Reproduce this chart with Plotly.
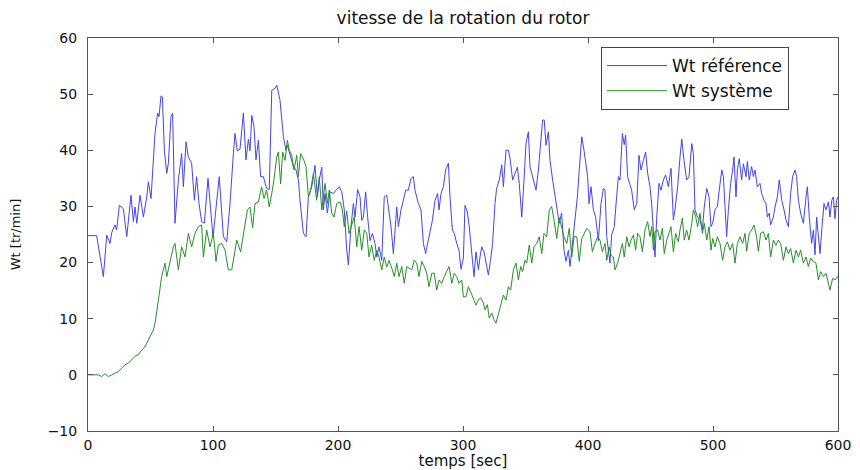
import plotly.graph_objects as go

# ---- data ----
t_ref = [0, 6.9, 12.3, 15, 17.6, 18.9, 21.6, 22.9, 25.1, 28.3, 31, 34.4, 36.3, 37.6, 39, 41.6, 44.3, 47, 48.3, 50.4,
         53.6, 55.7, 56.8, 58.4, 59.5, 61.1, 63, 64.3, 66.4, 67.7, 69.6, 72.3, 74.9, 76.3, 78.4, 80.3, 82.9, 85.1, 86.9, 88.8,
         90.9, 93.1, 96, 100, 105, 108.3, 111, 113.6, 116.3, 117.6, 119.5, 121.6, 124.3, 126.4, 128.3, 129.6, 131, 132.8, 134.4, 136.3,
         138.1, 140.3, 142.9, 145, 147, 149.6, 151, 153.6, 156.3, 158.4, 159.5, 161.6, 164.3, 166.4, 168.3, 169.6, 172.3, 174.4, 176.3, 179,
         181.6, 183.5, 185, 187, 188.3, 189.6, 191.5, 193.6, 196.3, 198.4, 201, 203, 205, 207, 208.3, 210.4, 212.3, 213.6, 215.7, 217.6,
         219, 220.3, 222.1, 223.7, 225.6, 227.5, 229.6, 231, 232.8, 235, 237, 239, 240.8, 242.4, 244.3, 245.6, 247, 248.3, 250.4, 252.3,
         254.1, 256.3, 258.4, 260.3, 261.6, 264.3, 266.4, 268.3, 270.1, 271.7, 273.6, 275.5, 277.6, 279.7, 280.8, 282.4, 284.3, 286.1, 288.3, 289.6,
         291.5, 293, 295, 296.8, 298.4, 300.3, 301.6, 303.5, 305, 307, 308.8, 310.4, 312.3, 313.6, 315, 316.8, 319, 320.3, 322, 323.7,
         325.6, 326.9, 329, 331, 332.3, 334.4, 336.3, 337.6, 339.7, 341.6, 343.5, 345, 347, 348.8, 350.4, 352.3, 353.6, 355, 356.8, 358.4,
         360.3, 362.1, 363.7, 365, 366.4, 368.3, 369.6, 371.7, 373.6, 375.5, 377, 378.9, 380.8, 382.4, 384.3, 385.6, 387.7, 389.6, 391.5, 393,
         395, 396.8, 398.4, 399.7, 400.8, 402.4, 404.3, 406.1, 408.3, 410.4, 412.3, 413.6, 415, 416.8, 417.6, 418.9, 421, 422.9, 424.3, 425.6,
         427.5, 429, 430.1, 431.7, 433.6, 434.9, 437, 439, 440.8, 442.4, 444.3, 446.1, 447.7, 449.6, 450.9, 452.3, 453.6, 455, 456.8, 458.4,
         460.3, 462.1, 464.3, 466.4, 468.3, 469.6, 471.7, 473.6, 475, 476.8, 478.9, 480.8, 483, 484.3, 485.6, 487.7, 489.6, 491.5, 493, 495,
         496.8, 498.4, 499.7, 501.6, 503.5, 505, 507, 508.3, 509.6, 510.9, 512.3, 514.1, 515.7, 516.8, 518.4, 519.5, 521, 522.9, 524.3, 526.4,
         527.5, 529, 530.9, 532.3, 533.6, 535.5, 537.6, 538.9, 540.8, 542.4, 543.5, 545, 546.1, 548.3, 549.6, 551.5, 553, 555, 556.8, 558.4,
         560.3, 562.1, 563.7, 565.6, 566.9, 568.3, 570.1, 572.3, 574.4, 575.5, 577, 578.9, 580.3, 581.6, 582.9, 584.3, 585.6, 587, 588.8, 590.4,
         592.3, 593.6, 595, 596.3, 597.6, 598.9, 600]
v_ref = [24.8, 24.8, 17.5, 24.9, 23.4, 25.3, 26.7, 25.8, 30.2, 29.6, 24.6, 32, 27.3, 29.9, 27, 32, 28.1, 31.7, 34.4, 31.4,
         43, 46.6, 46, 49.7, 49.5, 39.9, 35.9, 37.7, 46, 46.6, 27, 34.7, 39.4, 33.5, 41.5, 38.8, 37.7, 31.1, 35.3, 30.5,
         27.3, 27, 35, 24.5, 35.3, 24.6, 23.7, 30.5, 39.4, 43, 39.9, 40.2, 46.6, 38.3, 42, 39.9, 46.2, 44.2, 38.3, 41.8,
         35.3, 35.3, 33.2, 33, 50.7, 51, 51.6, 48.9, 42.4, 40, 40.9, 39.2, 37.1, 36.5, 34.7, 31.1, 25.2, 24.6, 31.7, 33.5,
         37.3, 31.7, 34.7, 37, 29.4, 32.3, 28.8, 32.6, 32.3, 32.9, 33.5, 32.6, 29.4, 22.2, 19.6, 26.4, 30.5, 28.1, 33, 31.7,
         27.5, 28.1, 32.6, 28.1, 23.9, 25.2, 23.4, 21, 22.8, 20.4, 31.7, 32, 29.4, 26.4, 21.6, 25.8, 29.9, 26.4, 29.4, 31.1,
         32.9, 32.9, 35, 35.3, 32.9, 30.5, 29.4, 23.4, 21.6, 23.4, 25.5, 27.5, 31.1, 32.3, 29.4, 32.3, 33.5, 36.5, 37.7, 31.7,
         25.8, 25.2, 23.4, 22.2, 18.8, 20.8, 30.2, 29, 26.4, 22.2, 17.5, 21.9, 18.7, 21, 22.8, 21.9, 19.3, 17.8, 20.4, 23.4,
         30.5, 33.2, 34.7, 37.4, 33.5, 40, 40, 38.6, 34.7, 35.9, 37, 34.1, 28.1, 34.7, 41.2, 43.3, 37, 35.9, 34.1, 32.9,
         36.5, 40.6, 45.4, 45.4, 40.9, 43.3, 38.2, 34.7, 31.7, 29.4, 27, 28.8, 22.2, 20.2, 22.2, 19.3, 23.4, 27, 31.7, 36.5,
         42.4, 40, 37, 35.3, 30.5, 33.5, 29.4, 28.1, 23.9, 30.5, 33.2, 32.9, 24.6, 21, 19.9, 24.9, 26.4, 31.7, 35.3, 34.7,
         43, 41, 42.7, 35.3, 34.1, 32.9, 29.4, 30.5, 39.1, 36.5, 38.2, 39.7, 35.9, 33.5, 30.5, 26.4, 21, 28.1, 34.1, 32.9,
         34.7, 35.6, 33.5, 36.8, 27.6, 29.4, 33.5, 38.8, 42, 38.2, 34.7, 35.3, 41.2, 39.4, 29.4, 28.1, 27.6, 25.8, 29.9, 33.2,
         31.7, 26.4, 27, 29.4, 30, 32.9, 36.5, 35.3, 29.4, 24.6, 29.4, 34.1, 36.5, 38.8, 31.7, 36.5, 38.5, 34.7, 37.6, 35.3,
         38, 34.7, 37.1, 35.3, 36.5, 33.5, 34.1, 32.3, 31.1, 30.5, 28.1, 28.8, 26.7, 28.1, 29.9, 31.7, 34.7, 31.1, 29.4, 27.6,
         26.4, 32.3, 35.3, 36.5, 35.3, 31.1, 28.8, 27, 31.7, 33.5, 28.1, 23.4, 25.8, 21.4, 28.1, 24.6, 21.6, 25.8, 30.5, 29.4,
         30.8, 28.1, 31.1, 31.7, 27.8, 31.1, 31.7]

t_sys = [0, 8.3, 10.9, 13.6, 16.3, 18.9, 21.6, 24.3, 26.9, 29.6, 32.3, 34.9, 37.6, 40.3, 42.9, 45.6, 48.3, 50.9, 52.3, 53.6,
         54.9, 56.3, 58.9, 61.6, 63, 65.6, 68.3, 69.6, 72.3, 74.9, 77.6, 80.3, 82.9, 85.6, 88.3, 90.9, 92.3, 94.9, 97.6, 100.3,
         102.4, 104.3, 107, 109.6, 112.3, 115, 116.8, 119, 122.1, 124.3, 127.5, 129.6, 131.7, 133.6, 136.3, 138.9, 140.8, 142.9, 145, 147,
         148.3, 151, 152.3, 154.1, 155.7, 157.6, 159.5, 161, 163, 164.8, 167, 168.3, 170.1, 172.3, 174.4, 176.3, 178.1, 180.3, 182.9, 185,
         187, 189.6, 191.5, 193, 195, 196.8, 199, 201.6, 203.5, 205, 207, 208.8, 211, 213, 215, 216.8, 219, 221, 223, 224.8,
         226.9, 229, 231, 232.8, 235, 237, 239, 240.8, 243, 245, 247, 248.8, 251, 253, 255, 256.8, 259, 261, 263, 264.8,
         267, 269, 271, 272.8, 275, 277, 279, 280.8, 283, 285, 287, 288.8, 291, 293, 295, 296.8, 299, 300.3, 302.4, 304.3,
         306.1, 308.3, 310.4, 312.3, 314.1, 316.3, 317.6, 319.5, 321, 323, 324.8, 326.4, 328.3, 330.1, 332.3, 334.4, 336.3, 338.1, 340.3, 342.4,
         344.3, 346.1, 347.7, 349.6, 351, 353, 355, 356.8, 358.9, 361, 363, 364.8, 367, 369, 370.9, 372.8, 375, 377, 378.9, 380.8,
         383, 385, 387, 388.8, 391, 393, 395, 396.8, 399, 401.6, 403.5, 405.6, 407.7, 409.6, 411.5, 413.6, 415, 416.8, 418.4, 420.3,
         421.6, 423.7, 425.6, 427.5, 429, 431, 432.8, 434.4, 436.3, 438.1, 439.7, 441.6, 443.5, 445.6, 447.7, 449.6, 451, 452.3, 453.6, 455.7,
         457.6, 459.5, 461, 463, 464.8, 466.4, 468.3, 470.1, 472.3, 473.6, 475.5, 477, 478.9, 480.8, 483, 484.3, 486.1, 487.7, 489.6, 491.5,
         493, 495, 496.8, 498.4, 499.7, 501.6, 503.5, 505.6, 507.7, 509.6, 511.5, 513.6, 515.7, 517.6, 519.5, 521.6, 523.7, 525.6, 526.9, 529,
         530.9, 532.8, 534.9, 536.3, 538.1, 540.3, 542.4, 544.3, 546.1, 548.3, 550.4, 552.3, 554.1, 556.3, 558.4, 560.3, 562.1, 564.3, 566.4, 568.3,
         570.1, 572.3, 574.4, 576.3, 578.1, 580.3, 582.4, 584.3, 586.1, 588.3, 590.4, 592.3, 593.6, 595.7, 597.6, 600]
v_sys = [0, 0, -0.3, 0.2, -0.3, 0, 0.3, 0.6, 1.2, 1.8, 2.1, 2.7, 3.3, 3.6, 4.4, 5, 6.2, 7.4, 8, 9.2,
         11.6, 13.3, 17.5, 19.9, 17.5, 20.4, 22.8, 23.4, 18.7, 22.8, 21, 25.2, 22.8, 25.2, 26.4, 26.7, 21, 25.8, 22.8, 25.2,
         20.2, 23.1, 23.4, 22.2, 18.7, 18.7, 21.4, 24, 21.9, 25.2, 29.4, 29.9, 26.2, 30.5, 30.8, 33.5, 31.4, 32.9, 29.9, 32.3,
         34, 38.8, 39.7, 34, 39.7, 38.2, 41.8, 40, 39.1, 36.5, 39.1, 35.3, 39.4, 38.5, 37.1, 31.7, 32.9, 35.9, 31.1, 35.3,
         29.4, 34.1, 30.5, 32.9, 28.8, 28.1, 30.5, 30.8, 29.4, 26.4, 29.2, 25.2, 26.7, 28.1, 22.8, 26.4, 22.2, 25.8, 25.2, 21,
         23.1, 20.4, 22.2, 21, 18.7, 21, 19.2, 20.4, 19, 17.5, 19.9, 17.5, 19.3, 16.3, 19.3, 19, 18.7, 20.4, 19.9, 17.5,
         20.2, 19.3, 18.1, 15.7, 18.1, 18.1, 15.1, 16.9, 16.3, 17.5, 18.4, 19.3, 16.3, 18.1, 17.5, 16.3, 16.9, 13.9, 13.9, 15.7,
         14.8, 13.4, 12.4, 13.4, 13.7, 12.8, 11.6, 12.5, 10.1, 11, 9.8, 9.2, 11, 12.6, 14.2, 13.3, 15.7, 15.1, 18.7, 19.9,
         16.9, 19.3, 18.4, 20.4, 19.9, 23.1, 19.9, 22.8, 23.4, 24.6, 21.6, 25.2, 24.6, 29.4, 30, 27.6, 24.3, 28, 26.4, 24.6,
         23.4, 26.1, 21, 24.6, 24.6, 20.2, 24.3, 25.2, 26.1, 25.5, 21.9, 23.4, 24.6, 24, 21.9, 23.4, 20.4, 22.8, 21.3, 21,
         18.7, 19.9, 21.6, 23.4, 21, 24.6, 22.8, 24, 24.9, 22.2, 25.2, 24.6, 21.9, 25.8, 27.3, 24.6, 26.4, 22.2, 25.5, 25.8,
         24, 26.1, 21.6, 24, 25.2, 26.4, 21.9, 25.2, 23.7, 25.8, 27.9, 24, 25.8, 24, 27, 29.4, 28.2, 26.4, 28.8, 25.2,
         27, 24, 26.4, 22.2, 24.3, 22.8, 24.6, 23.4, 20.4, 22.8, 23.7, 22.2, 23.4, 19.9, 23.4, 24.6, 23.4, 25.2, 22, 25.2,
         25.8, 26.7, 24.6, 22, 25.2, 25.5, 24, 25.2, 21, 24, 23.1, 24, 23.4, 20.4, 22.8, 21.6, 22.5, 19.9, 22.2, 21,
         22.2, 19.9, 21, 19.3, 20.8, 20.2, 19.9, 16.9, 18.4, 17.5, 18.1, 16.3, 15.1, 17.2, 16.9, 17.6]

x_ticks = [0, 100, 200, 300, 400, 500, 600]
y_ticks = [-10, 0, 10, 20, 30, 40, 50, 60]

FONT = "DejaVu Sans"

fig = go.Figure()
fig.add_trace(go.Scatter(x=t_ref, y=v_ref, mode="lines", name="Wt référence",
                         line=dict(color="#4545e0", width=1)))
fig.add_trace(go.Scatter(x=t_sys, y=v_sys, mode="lines", name="Wt système",
                         line=dict(color="#2a8c2a", width=1)))

axis_common = dict(showgrid=False, zeroline=False, showline=True, linecolor="#555555", linewidth=1,
                   mirror="ticks", ticks="inside", ticklen=5, tickcolor="#555555",
                   tickfont=dict(family=FONT, size=14, color="#111111"))

fig.update_layout(
    width=860, height=470,
    margin=dict(l=88, r=22, t=38, b=39, autoexpand=False),
    paper_bgcolor="white", plot_bgcolor="white",
    title=dict(text="vitesse de la rotation du rotor", x=0.5, xref="paper", xanchor="center",
               y=1 - 18 / 470, yref="container", yanchor="middle",
               font=dict(family=FONT, size=17, color="#111111")),
    xaxis=dict(range=[0, 600], tickvals=x_ticks, **axis_common, ticklabelstandoff=1,
               title=dict(text="temps [sec]", standoff=5, font=dict(family=FONT, size=15, color="#111111"))),
    yaxis=dict(range=[-10, 60], tickvals=y_ticks, **axis_common, ticklabelstandoff=7,
               title=dict(text="Wt [tr/min]", standoff=24, font=dict(family=FONT, size=13, color="#111111"))),
    legend=dict(x=0.684, y=0.977, xanchor="left", yanchor="top", bgcolor="white",
                bordercolor="#444444", borderwidth=1, font=dict(family=FONT, size=17, color="#111111"),
                tracegroupgap=0, itemwidth=60),
    showlegend=True,
)

fig.write_html("out.html")
